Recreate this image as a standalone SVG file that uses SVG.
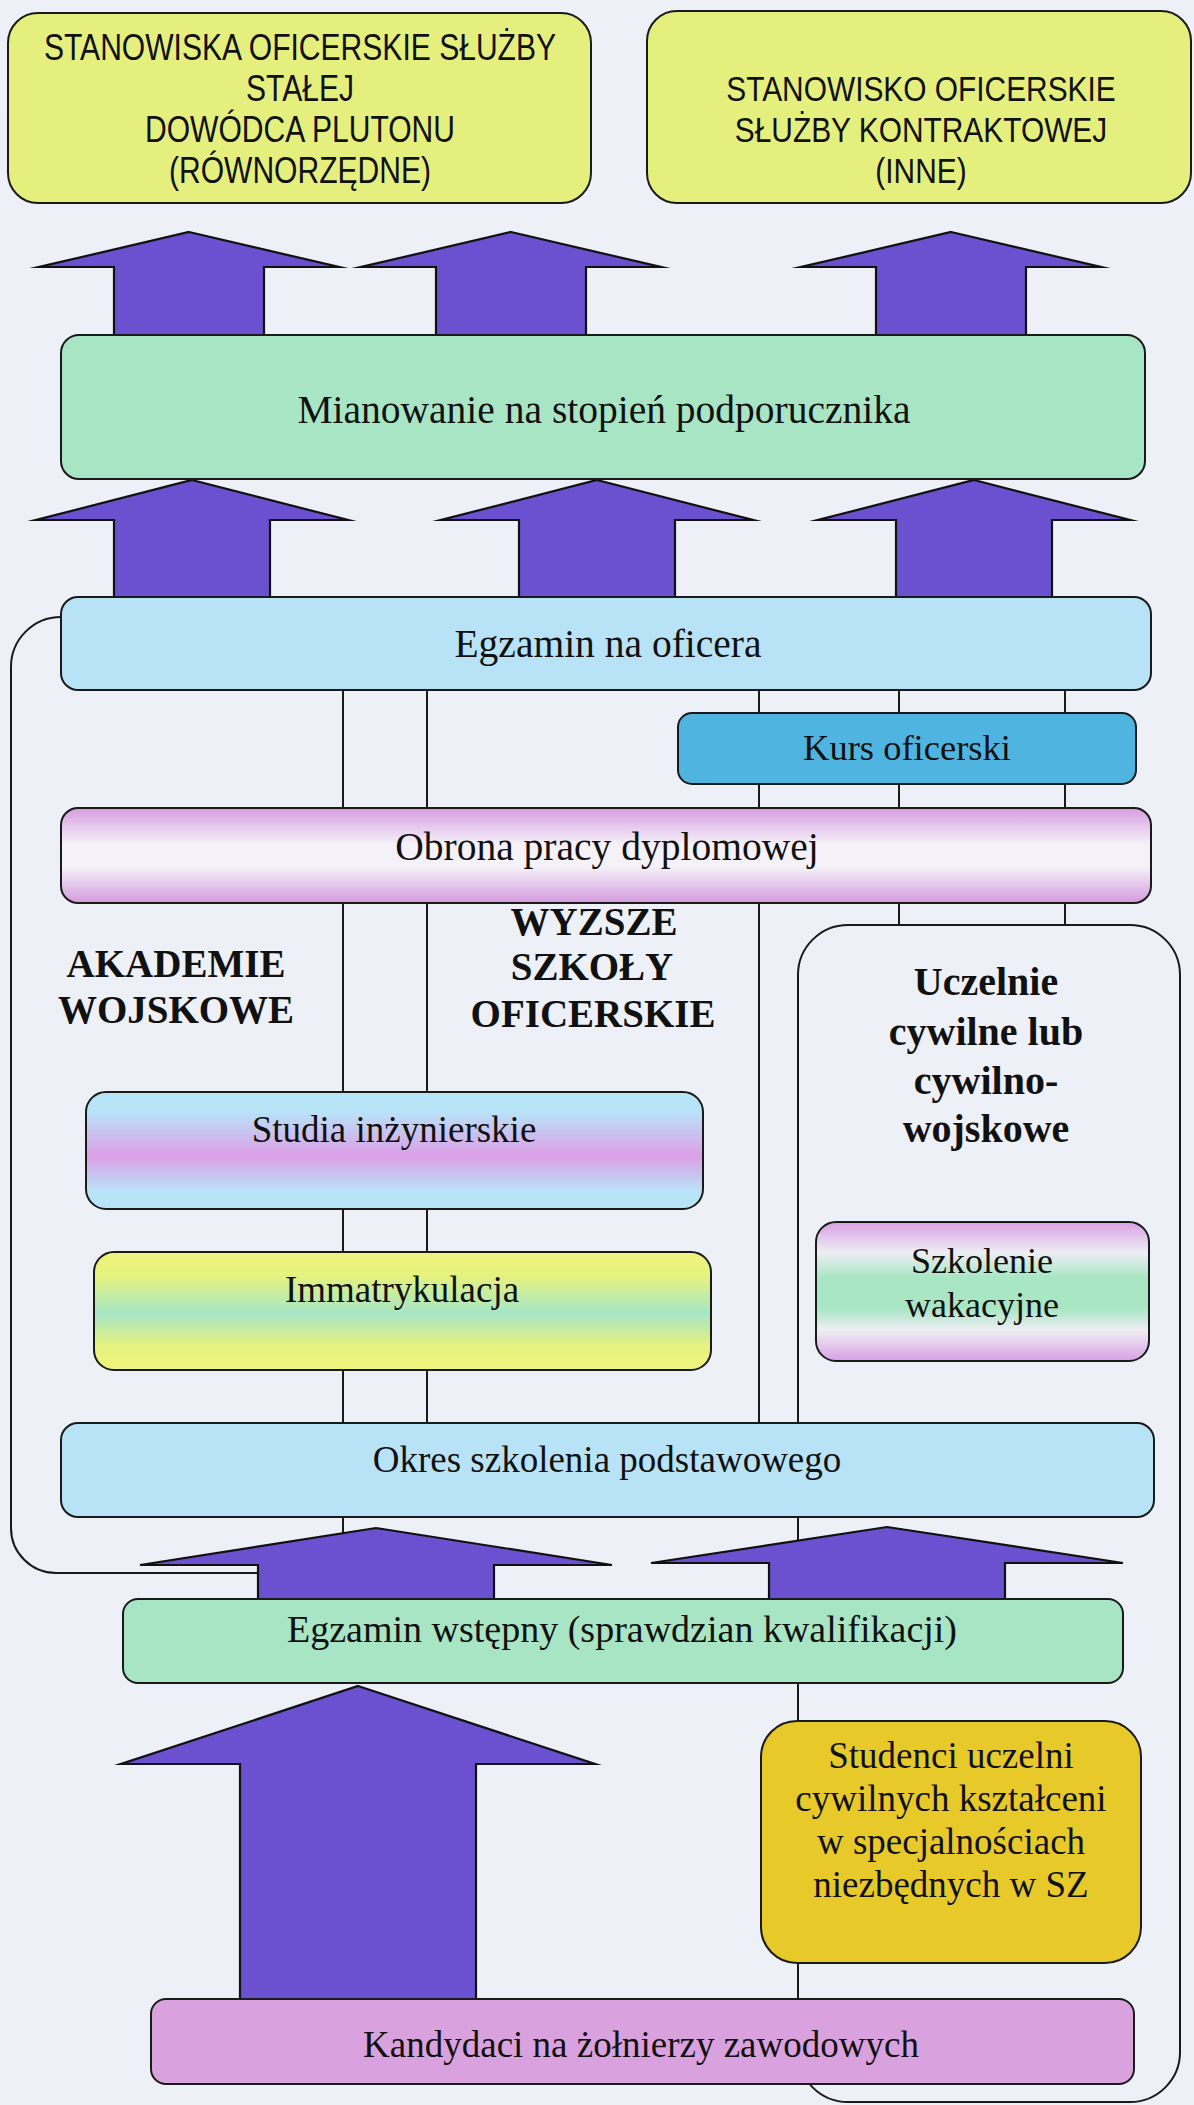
<svg xmlns="http://www.w3.org/2000/svg" width="1194" height="2105" viewBox="0 0 1194 2105">
<defs>
<style>
.box{stroke:#1a1a1a;stroke-width:2}
.ln{fill:none;stroke:#1a1a1a;stroke-width:2}
.arr{fill:#6b50cf;stroke:#111;stroke-width:2.2;stroke-linejoin:miter;stroke-miterlimit:10}
.t{font-family:"Liberation Serif","Times New Roman",serif;fill:#111;text-anchor:middle}
.b{font-weight:bold}
.n{font-family:"Liberation Sans",Arial,sans-serif;fill:#111;text-anchor:middle;font-size:36px}
</style>
<linearGradient id="gObrona" x1="0" y1="0" x2="0" y2="1">
<stop offset="0" stop-color="#d59ddf"/><stop offset="0.38" stop-color="#f5f1f9"/><stop offset="0.62" stop-color="#f5f1f9"/><stop offset="1" stop-color="#d39bdd"/>
</linearGradient>
<linearGradient id="gStudia" x1="0" y1="0" x2="0" y2="1">
<stop offset="0" stop-color="#b8e4f8"/><stop offset="0.16" stop-color="#b8e4f8"/><stop offset="0.55" stop-color="#dc9fe6"/><stop offset="0.85" stop-color="#b8e4f8"/><stop offset="1" stop-color="#b8e4f8"/>
</linearGradient>
<linearGradient id="gImm" x1="0" y1="0" x2="0" y2="1">
<stop offset="0" stop-color="#eef47c"/><stop offset="0.2" stop-color="#e6f27e"/><stop offset="0.52" stop-color="#a6e6c6"/><stop offset="0.8" stop-color="#e6f27e"/><stop offset="1" stop-color="#eef47c"/>
</linearGradient>
<linearGradient id="gSzk" x1="0" y1="0" x2="0" y2="1">
<stop offset="0" stop-color="#d8a0e4"/><stop offset="0.22" stop-color="#eeeef4"/><stop offset="0.4" stop-color="#a8e6c4"/><stop offset="0.62" stop-color="#a8e6c4"/><stop offset="0.78" stop-color="#eeeef4"/><stop offset="1" stop-color="#d8a0e4"/>
</linearGradient>
</defs>
<rect x="0" y="0" width="1194" height="2105" fill="#edf0f7"/>

<g id="connectors">
<g id="lines">
<line class="ln" x1="343" y1="690" x2="343" y2="1550"/>
<line class="ln" x1="427" y1="690" x2="427" y2="1423"/>
<line class="ln" x1="759" y1="690" x2="759" y2="1423"/>
<line class="ln" x1="899" y1="690" x2="899" y2="925"/>
<line class="ln" x1="1065" y1="690" x2="1065" y2="925"/>
<rect id="uczelnie-frame" class="ln" x="798" y="925" width="382" height="1177" rx="50" ry="50"/>
<path id="akademie-bracket" class="ln" d="M 61 617 A 50 50 0 0 0 11 667 L 11 1528 A 45 45 0 0 0 56 1573 L 300 1573"/>
</g>
<g id="arrows">
<polygon class="arr" points="189,232 339,267 264,267 264,336 114,336 114,267 39,267"/>
<polygon class="arr" points="511,232 661,267 586,267 586,336 436,336 436,267 361,267"/>
<polygon class="arr" points="951,232 1101,267 1026,267 1026,336 876,336 876,267 801,267"/>
<polygon class="arr" points="192,480 348,520 270,520 270,598 114,598 114,520 36,520"/>
<polygon class="arr" points="597,480 753,520 675,520 675,598 519,598 519,520 441,520"/>
<polygon class="arr" points="974,480 1130,520 1052,520 1052,598 896,598 896,520 818,520"/>
<polygon class="arr" points="376,1528 612,1565 494,1565 494,1601 258,1601 258,1565 140,1565"/>
<polygon class="arr" points="887,1527 1123,1563 1005,1563 1005,1599 769,1599 769,1563 651,1563"/>
<polygon class="arr" points="358,1686 595,1764 476,1764 476,2000 240,2000 240,1764 121,1764"/>
</g>
</g>

<g id="stanowiska-stalej">
<rect class="box" x="8" y="13" width="583" height="190" rx="30" fill="#e5ef7e"/>
<text class="n" transform="translate(300 0) scale(0.835 1)" x="0" y="60">STANOWISKA OFICERSKIE SŁUŻBY</text>
<text class="n" transform="translate(300 0) scale(0.835 1)" x="0" y="101">STAŁEJ</text>
<text class="n" transform="translate(300 0) scale(0.835 1)" x="0" y="142">DOWÓDCA PLUTONU</text>
<text class="n" transform="translate(300 0) scale(0.835 1)" x="0" y="183">(RÓWNORZĘDNE)</text>
</g>

<g id="stanowisko-kontraktowe">
<rect class="box" x="647" y="11" width="544" height="192" rx="30" fill="#e5ef7e"/>
<text class="n" transform="translate(921 0) scale(0.83 1)" x="0" y="101">STANOWISKO OFICERSKIE</text>
<text class="n" transform="translate(921 0) scale(0.83 1)" x="0" y="142">SŁUŻBY KONTRAKTOWEJ</text>
<text class="n" transform="translate(921 0) scale(0.83 1)" x="0" y="183">(INNE)</text>
</g>

<g id="mianowanie">
<rect class="box" x="61" y="335" width="1084" height="144" rx="18" fill="#a8e5c5"/>
<text class="t" x="604" y="423" font-size="39.5">Mianowanie na stopień podporucznika</text>
</g>

<g id="egzamin-oficera">
<rect class="box" x="61" y="597" width="1090" height="93" rx="17" fill="#b8e3f6"/>
<text class="t" x="608" y="657" font-size="39.5">Egzamin na oficera</text>
</g>

<g id="kurs-oficerski">
<rect class="box" x="678" y="713" width="458" height="71" rx="14" fill="#50b4e0"/>
<text class="t" x="907" y="760" font-size="36.5">Kurs oficerski</text>
</g>

<g id="obrona">
<rect class="box" x="61" y="808" width="1090" height="95" rx="17" fill="url(#gObrona)"/>
<text class="t" x="607" y="860" font-size="39.5">Obrona pracy dyplomowej</text>
</g>

<g id="akademie">
<text class="t b" x="176" y="977" font-size="39">AKADEMIE</text>
<text class="t b" x="176" y="1023" font-size="39">WOJSKOWE</text>
</g>

<g id="wyzsze-szkoly">
<text class="t b" x="594" y="935" font-size="39">WYZSZE</text>
<text class="t b" x="592" y="980" font-size="39">SZKOŁY</text>
<text class="t b" x="593" y="1027" font-size="39">OFICERSKIE</text>
</g>

<g id="uczelnie">
<text class="t b" x="986" y="995" font-size="40">Uczelnie</text>
<text class="t b" x="986" y="1045" font-size="40">cywilne lub</text>
<text class="t b" x="986" y="1094" font-size="40">cywilno-</text>
<text class="t b" x="986" y="1142" font-size="40">wojskowe</text>
</g>

<g id="studia">
<rect class="box" x="86" y="1092" width="617" height="117" rx="20" fill="url(#gStudia)"/>
<text class="t" x="394" y="1142" font-size="37">Studia inżynierskie</text>
</g>

<g id="immatrykulacja">
<rect class="box" x="94" y="1252" width="617" height="118" rx="20" fill="url(#gImm)"/>
<text class="t" x="402" y="1302" font-size="37">Immatrykulacja</text>
</g>

<g id="szkolenie-wakacyjne">
<rect class="box" x="816" y="1222" width="333" height="139" rx="20" fill="url(#gSzk)"/>
<text class="t" x="982" y="1273" font-size="36">Szkolenie</text>
<text class="t" x="982" y="1317" font-size="36">wakacyjne</text>
</g>

<g id="okres-szkolenia">
<rect class="box" x="61" y="1423" width="1093" height="94" rx="17" fill="#b8e3f6"/>
<text class="t" x="607" y="1472" font-size="37">Okres szkolenia podstawowego</text>
</g>

<g id="egzamin-wstepny">
<rect class="box" x="123" y="1599" width="1000" height="84" rx="15" fill="#a8e5c5"/>
<text class="t" x="622" y="1642" font-size="38">Egzamin wstępny (sprawdzian kwalifikacji)</text>
</g>

<g id="studenci">
<rect class="box" x="761" y="1721" width="380" height="242" rx="36" fill="#e8c92a"/>
<text class="t" x="951" y="1768" font-size="37">Studenci uczelni</text>
<text class="t" x="951" y="1811" font-size="37">cywilnych kształceni</text>
<text class="t" x="951" y="1854" font-size="37">w specjalnościach</text>
<text class="t" x="951" y="1897" font-size="37">niezbędnych w SZ</text>
</g>

<g id="kandydaci">
<rect class="box" x="151" y="1999" width="983" height="85" rx="15" fill="#d9a2de"/>
<text class="t" x="641" y="2057" font-size="37">Kandydaci na żołnierzy zawodowych</text>
</g>
</svg>
